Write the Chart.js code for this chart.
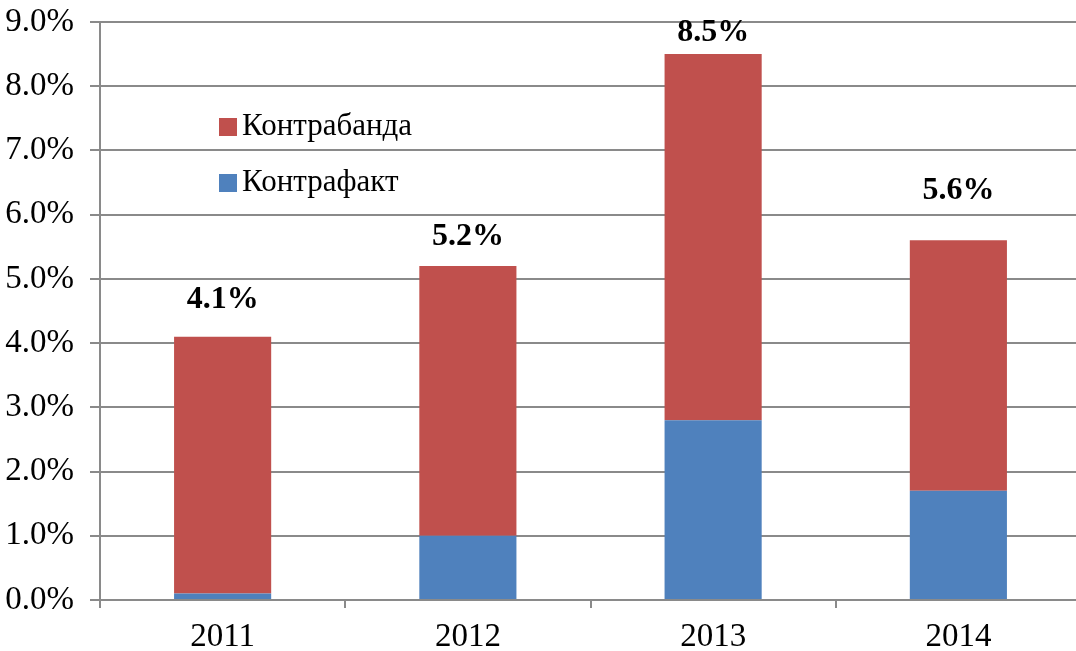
<!DOCTYPE html>
<html>
<head>
<meta charset="utf-8">
<script src="https://cdn.jsdelivr.net/npm/chart.js@4.4.1/dist/chart.umd.min.js"></script>
<style>
    html, body { margin: 0; padding: 0; background: #fff; overflow: hidden; }
    #wrap { width: 1082px; height: 651px; }
</style>
</head>
<body>
<div id="wrap"><canvas id="chart"></canvas></div>
<script>
// =====================
// DATA
// =====================
let years = ["2011", "2012", "2013", "2014"];
let kontrafakt = [0.1, 1.0, 2.8, 1.7];
let kontrabanda = [4.0, 4.2, 5.7, 3.9];
let totals = [4.1, 5.2, 8.5, 5.6];
let yTicks = [0, 1, 2, 3, 4, 5, 6, 7, 8, 9];

// label lift above each bar top, px
let labelLift = [37, 29, 21, 50];

const FONT = "'Liberation Serif', 'Times New Roman', serif";
const GRID = "#8a8a8a";

// =====================
// PLUGINS
// =====================
const totalLabels = {
    id: "totalLabels",
    afterDatasetsDraw(chart) {
        let ctx = chart.ctx;
        let x = chart.scales.x, y = chart.scales.y;
        ctx.save();
        ctx.font = "bold 32px " + FONT;
        ctx.fillStyle = "#000";
        ctx.textAlign = "center";
        ctx.textBaseline = "middle";
        totals.forEach((t, i) => {
            ctx.fillText(t.toFixed(1) + "%", x.getPixelForValue(i), y.getPixelForValue(t) - labelLift[i]);
        });
        ctx.restore();
    }
};

const innerLegend = {
    id: "innerLegend",
    afterDraw(chart) {
        let ctx = chart.ctx;
        let items = chart.data.datasets.slice().reverse();
        ctx.save();
        ctx.font = "31px " + FONT;
        ctx.textBaseline = "middle";
        items.forEach((ds, i) => {
            let cy = 127 + i * 56;
            ctx.fillStyle = ds.backgroundColor;
            ctx.fillRect(219, cy - 9, 18, 18);
            ctx.fillStyle = "#000";
            ctx.fillText(ds.label, 242, cy);
        });
        ctx.restore();
    }
};

// =====================
// CHART
// =====================
new Chart(document.getElementById("chart"), {
    type: "bar",
    data: {
        labels: years,
        datasets: [
            { label: "Контрафакт", data: kontrafakt, backgroundColor: "#4F81BD" },
            { label: "Контрабанда", data: kontrabanda, backgroundColor: "#C0504D" }
        ]
    },
    options: {
        responsive: true,
        maintainAspectRatio: false,
        animation: false,
        layout: { padding: { top: 22, right: 1, left: 0, bottom: 0 } },
        datasets: { bar: { categoryPercentage: 1, barPercentage: 0.396 } },
        plugins: { legend: { display: false }, tooltip: { enabled: false } },
        scales: {
            x: {
                stacked: true,
                offset: true,
                grid: { offset: true, drawOnChartArea: false, color: GRID, lineWidth: 2, tickLength: 8 },
                border: { color: GRID, width: 2 },
                ticks: { color: "#000", font: { family: FONT, size: 33 }, padding: 10 },
                afterFit(s) { s.height = 51; s.paddingLeft = 0; s.paddingRight = 0; }
            },
            y: {
                stacked: true,
                min: 0,
                max: 9,
                afterBuildTicks(s) { s.ticks = yTicks.map(v => ({ value: v })); },
                grid: { color: GRID, lineWidth: 2, tickLength: 10 },
                border: { color: GRID, width: 2 },
                ticks: {
                    color: "#000",
                    font: { family: FONT, size: 33 },
                    padding: 16,
                    callback: v => v.toFixed(1) + "%"
                },
                afterFit(s) { s.width = 100; s.paddingTop = 0; s.paddingBottom = 0; }
            }
        }
    },
    plugins: [totalLabels, innerLegend]
});
</script>
</body>
</html>
